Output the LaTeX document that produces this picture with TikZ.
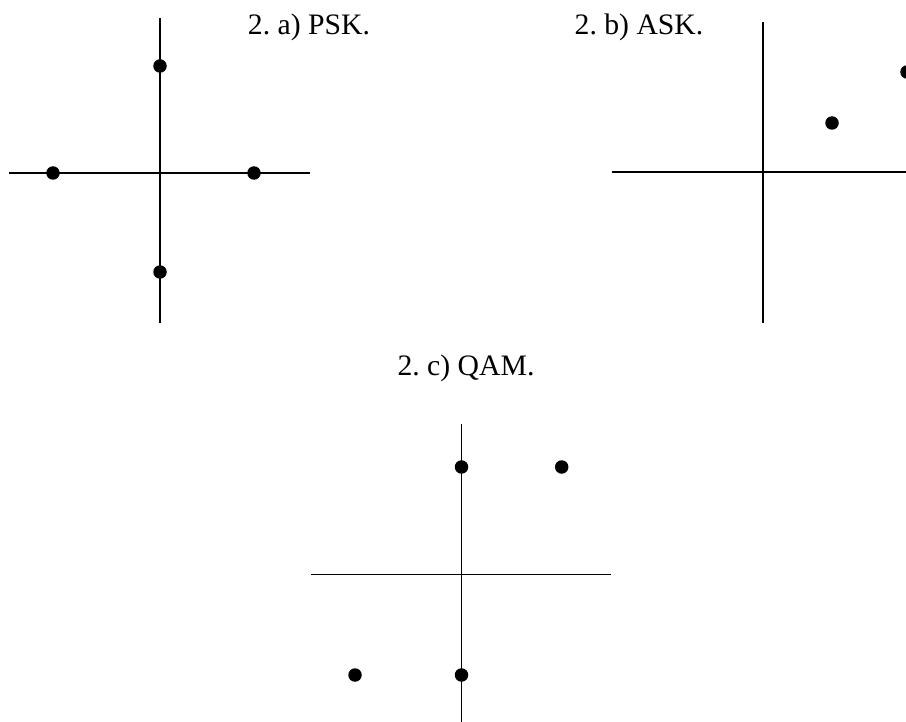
\documentclass[tikz,border=0pt]{standalone}
\usepackage{fontspec}
\setmainfont{Liberation Serif}
\frenchspacing
\begin{document}
\begin{tikzpicture}[x=1pt,y=-1pt,
  axis/.style={line width=1.3pt,black},
  sym/.style={circle,fill=black,inner sep=0pt,minimum size=13.5pt},
  lbl/.style={anchor=base,inner sep=0pt,font=\fontsize{29.7}{34}\selectfont}]
\useasboundingbox (0,0) rectangle (906,722);
% PSK
\coordinate (aT) at (160,18); \coordinate (aB) at (160,323);
\coordinate (aL) at (9,173); \coordinate (aR) at (310,173);
\draw[axis] (aT) -- (aB); \draw[axis] (aL) -- (aR);
\node[sym] (a1) at (160,66) {};
\node[sym] (a2) at (53,173) {};
\node[sym] (a3) at (254,173) {};
\node[sym] (a4) at (160,272) {};
\node[lbl] (la) at (309,35) {2. a) PSK.};
% ASK
\coordinate (bT) at (763,22); \coordinate (bB) at (763,323);
\coordinate (bL) at (612,172); \coordinate (bR) at (906,172);
\draw[axis] (bT) -- (bB); \draw[axis] (bL) -- (bR);
\node[sym] (b1) at (832,123) {};
\node[sym] (b2) at (907,72) {};
\node[lbl] (lb) at (639,35) {2. b) ASK.};
% QAM
\coordinate (cT) at (461.5,424); \coordinate (cB) at (461.5,722);
\coordinate (cL) at (311,574.5); \coordinate (cR) at (611,574.5);
\draw[axis] (cT) -- (cB); \draw[axis] (cL) -- (cR);
\node[sym] (c1) at (461.5,467) {};
\node[sym] (c2) at (561.7,467) {};
\node[sym] (c3) at (355,675) {};
\node[sym] (c4) at (461.5,675) {};
\node[lbl] (lc) at (466,375) {2. c) QAM.};
\end{tikzpicture}
\end{document}
